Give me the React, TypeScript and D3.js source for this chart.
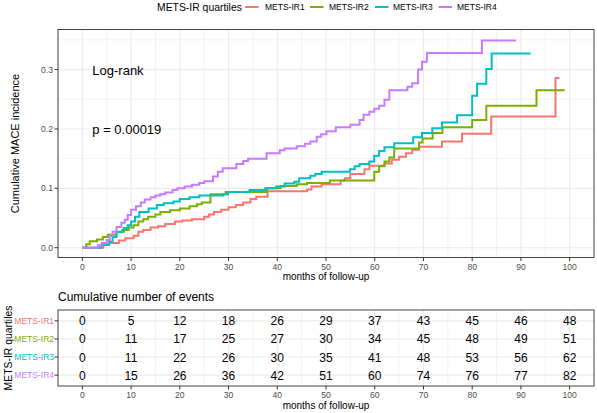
import React from "react";
import * as d3 from "d3";

// ---------- data ----------
const groups = ["METS-IR1", "METS-IR2", "METS-IR3", "METS-IR4"];
const groupColors = ["#F8766D", "#7CAE00", "#00BFC4", "#C77CFF"];

// step points: [month, cumulative incidence] (value holds from this month on)
const ir1Steps: [number, number][] = [
  [0, 0], [4.3, 0.005], [5.5, 0.008], [7.5, 0.012], [8.8, 0.016], [10.5, 0.02], [11.5, 0.027],
  [12.5, 0.03], [14, 0.034], [15.5, 0.036], [17, 0.04], [19, 0.044], [20.5, 0.046], [22.5, 0.048],
  [25, 0.052], [26, 0.056], [27, 0.06], [28.5, 0.064], [30, 0.068], [31.5, 0.072], [33, 0.076],
  [34.5, 0.082], [35.7, 0.086], [38, 0.095], [46.1, 0.098], [47, 0.103], [49.1, 0.107], [53, 0.113],
  [53.9, 0.117], [55, 0.124], [57.9, 0.132], [58.9, 0.138], [62, 0.142], [63.5, 0.148], [65, 0.153],
  [66.4, 0.159], [67.7, 0.165], [69.1, 0.17], [73.8, 0.179], [77.9, 0.192], [83.9, 0.221], [97.1, 0.286],
];
const ir1End = 97.9;

const ir2Steps: [number, number][] = [
  [0, 0], [0.8, 0.006], [1.5, 0.011], [3, 0.014], [4.2, 0.018], [5.2, 0.022], [7, 0.026], [8.2, 0.03],
  [9.5, 0.034], [10.5, 0.038], [11.5, 0.044], [12.5, 0.048], [13.5, 0.052], [15, 0.056], [16, 0.06],
  [18, 0.063], [20, 0.066], [22, 0.07], [23.5, 0.073], [24.5, 0.076], [26.3, 0.09], [29.4, 0.094],
  [37.9, 0.1], [40.7, 0.104], [44, 0.107], [46.1, 0.109], [50.8, 0.113], [59.9, 0.128], [60.9, 0.137],
  [62, 0.145], [63, 0.152], [64, 0.167], [69.1, 0.177], [69.8, 0.184], [71.9, 0.193], [73.9, 0.203],
  [80, 0.215], [82.9, 0.239], [93.2, 0.265],
];
const ir2End = 99;

const ir3Steps: [number, number][] = [
  [0, 0], [3.9, 0.005], [5.5, 0.01], [6.2, 0.018], [7, 0.027], [8.5, 0.033], [9.3, 0.038], [10, 0.044],
  [10.8, 0.052], [11.7, 0.06], [13.6, 0.066], [15.3, 0.072], [16.7, 0.075], [18.7, 0.078], [20, 0.082],
  [22, 0.085], [24, 0.088], [28.9, 0.09], [29.9, 0.094], [34.3, 0.097], [37.5, 0.1], [39.8, 0.103],
  [41.5, 0.108], [43.5, 0.111], [44.5, 0.117], [46.8, 0.121], [47.8, 0.124], [49.1, 0.128], [54.9, 0.132],
  [55.9, 0.137], [56.9, 0.141], [58.9, 0.145], [59.9, 0.155], [60.9, 0.163], [62, 0.169], [64, 0.176],
  [67.9, 0.186], [69.7, 0.193], [71.8, 0.201], [73.8, 0.211], [76.9, 0.223], [80, 0.256], [81, 0.276],
  [82.9, 0.301], [84, 0.327],
];
const ir3End = 92;

const ir4Steps: [number, number][] = [
  [0, 0], [3.2, 0.004], [4, 0.008], [5, 0.013], [5.6, 0.02], [6.2, 0.027], [7, 0.035], [8, 0.042],
  [8.7, 0.047], [9.3, 0.055], [10, 0.064], [11, 0.07], [12, 0.076], [12.8, 0.081], [14, 0.085],
  [15, 0.088], [16, 0.09], [17, 0.093], [18.5, 0.097], [19.5, 0.1], [21, 0.103], [22.5, 0.106],
  [24, 0.109], [25, 0.112], [26.8, 0.12], [27.8, 0.128], [28.8, 0.134], [31.6, 0.141], [33, 0.146],
  [34, 0.15], [37.8, 0.159], [40.5, 0.164], [41.5, 0.167], [44, 0.171], [45.7, 0.175], [46.8, 0.179],
  [48.1, 0.187], [49, 0.191], [50.1, 0.196], [52, 0.203], [55, 0.207], [56.9, 0.215], [57.7, 0.224],
  [58.9, 0.229], [59.9, 0.234], [60.9, 0.239], [62, 0.249], [63, 0.265], [66.7, 0.271], [67.7, 0.277],
  [68.9, 0.3], [69.7, 0.313], [70.7, 0.328], [82, 0.349],
];
const ir4End = 89;

const riskTimes = [0, 10, 20, 30, 40, 50, 60, 70, 80, 90, 100];
const ir1Events = [0, 5, 12, 18, 26, 29, 37, 43, 45, 46, 48];
const ir2Events = [0, 11, 17, 25, 27, 30, 34, 45, 48, 49, 51];
const ir3Events = [0, 11, 22, 26, 30, 35, 41, 48, 53, 56, 62];
const ir4Events = [0, 15, 26, 36, 42, 51, 60, 74, 76, 77, 82];

const xTicks = [0, 10, 20, 30, 40, 50, 60, 70, 80, 90, 100];
const xMinorTicks = [-5, 5, 15, 25, 35, 45, 55, 65, 75, 85, 95, 105];
const yTicks = [0, 0.1, 0.2, 0.3];
const yMinorTicks = [0.05, 0.15, 0.25, 0.35];

const curveSteps = [ir1Steps, ir2Steps, ir3Steps, ir4Steps];
const curveEnds = [ir1End, ir2End, ir3End, ir4End];
const eventRows = [ir1Events, ir2Events, ir3Events, ir4Events];

// ---------- layout ----------
const W = 597;
const H = 413;
const panelL = 58;
const panelR = 594;
const mainTop = 29.5;
const mainBot = 257.5;
const tabTop = 310;
const tabBot = 386;
const FONT = "Liberation Sans, Arial, Helvetica, sans-serif";
const tickCol = "#4D4D4D";
const gridCol = "#EBEBEB";
const borderCol = "#444444";

export default function App() {
  const x = d3.scaleLinear().domain([-5, 105]).range([panelL, panelR]);
  const y = d3.scaleLinear().domain([-0.0165, 0.3675]).range([mainBot, mainTop]);
  const rowY = d3.scalePoint<string>().domain(groups).range([tabTop, tabBot]).padding(0.6);

  const line = d3
    .line<[number, number]>()
    .x((d) => x(d[0]))
    .y((d) => y(d[1]))
    .curve(d3.curveStepAfter);

  const legendItems = [
    { key: 245, label: 265 },
    { key: 310, label: 329 },
    { key: 375, label: 393 },
    { key: 438.5, label: 457 },
  ];

  return (
    <svg
      width={W}
      height={H}
      viewBox={`0 0 ${W} ${H}`}
      style={{ position: "absolute", left: 0, top: 0, background: "#fff" }}
      fontFamily={FONT}
    >
      <rect x={0} y={0} width={W} height={H} fill="#fff" />

      {/* legend */}
      <text x={157} y={7} fontSize={10.4} dominantBaseline="central" fill="#000">
        METS-IR quartiles
      </text>
      {groups.map((g, i) => (
        <g key={g}>
          <line
            x1={legendItems[i].key}
            x2={legendItems[i].key + 13.5}
            y1={7}
            y2={7}
            stroke={groupColors[i]}
            strokeWidth={2}
          />
          <text x={legendItems[i].label} y={7.3} fontSize={8.5} dominantBaseline="central" fill="#000">
            {g}
          </text>
        </g>
      ))}

      {/* main panel grid */}
      <g>
        {xMinorTicks.map((t) => (
          <line key={"xm" + t} x1={x(t)} x2={x(t)} y1={mainTop} y2={mainBot} stroke={gridCol} strokeWidth={0.6} />
        ))}
        {yMinorTicks.map((t) => (
          <line key={"ym" + t} x1={panelL} x2={panelR} y1={y(t)} y2={y(t)} stroke={gridCol} strokeWidth={0.6} />
        ))}
        {xTicks.map((t) => (
          <line key={"x" + t} x1={x(t)} x2={x(t)} y1={mainTop} y2={mainBot} stroke={gridCol} strokeWidth={1.1} />
        ))}
        {yTicks.map((t) => (
          <line key={"y" + t} x1={panelL} x2={panelR} y1={y(t)} y2={y(t)} stroke={gridCol} strokeWidth={1.1} />
        ))}
      </g>

      {/* curves */}
      {curveSteps.map((steps, i) => {
        const pts: [number, number][] = [...steps, [curveEnds[i], steps[steps.length - 1][1]]];
        return (
          <path
            key={groups[i]}
            d={line(pts) || ""}
            fill="none"
            stroke={groupColors[i]}
            strokeWidth={2}
          />
        );
      })}

      {/* annotations */}
      <text x={92.3} y={70} fontSize={13} dominantBaseline="central" fill="#000">
        Log-rank
      </text>
      <text x={92.3} y={129.3} fontSize={13} dominantBaseline="central" fill="#000">
        p = 0.00019
      </text>

      <rect
        x={panelL}
        y={mainTop}
        width={panelR - panelL}
        height={mainBot - mainTop}
        fill="none"
        stroke={borderCol}
        strokeWidth={1}
      />

      {/* main axes */}
      {yTicks.map((t) => (
        <g key={"yt" + t}>
          <line x1={panelL - 3.5} x2={panelL} y1={y(t)} y2={y(t)} stroke="#333" strokeWidth={1} />
          <text
            x={panelL - 5}
            y={y(t)}
            fontSize={8.6}
            textAnchor="end"
            dominantBaseline="central"
            fill={tickCol}
          >
            {d3.format(".1f")(t)}
          </text>
        </g>
      ))}
      {xTicks.map((t) => (
        <g key={"xt" + t}>
          <line x1={x(t)} x2={x(t)} y1={mainBot} y2={mainBot + 3.5} stroke="#333" strokeWidth={1} />
          <text x={x(t)} y={266.5} fontSize={8.6} textAnchor="middle" dominantBaseline="central" fill={tickCol}>
            {t}
          </text>
        </g>
      ))}
      <text x={(panelL + panelR) / 2} y={276} fontSize={10} textAnchor="middle" dominantBaseline="central" fill="#000">
        months of follow-up
      </text>
      <text
        transform={`translate(15, ${(mainTop + mainBot) / 2}) rotate(-90)`}
        fontSize={11}
        textAnchor="middle"
        dominantBaseline="central"
        fill="#000"
      >
        Cumulative MACE incidence
      </text>

      {/* risk table */}
      <text x={panelL} y={297} fontSize={12} dominantBaseline="central" fill="#000">
        Cumulative number of events
      </text>
      <g>
        {xMinorTicks.map((t) => (
          <line key={"txm" + t} x1={x(t)} x2={x(t)} y1={tabTop} y2={tabBot} stroke={gridCol} strokeWidth={0.6} />
        ))}
        {xTicks.map((t) => (
          <line key={"tx" + t} x1={x(t)} x2={x(t)} y1={tabTop} y2={tabBot} stroke={gridCol} strokeWidth={1.1} />
        ))}
        {groups.map((g) => (
          <line key={"ty" + g} x1={panelL} x2={panelR} y1={rowY(g)} y2={rowY(g)} stroke={gridCol} strokeWidth={1.1} />
        ))}
      </g>
      {groups.map((g, i) =>
        eventRows[i].map((v, j) => (
          <text
            key={g + j}
            x={x(riskTimes[j])}
            y={(rowY(g) as number) + 0.5}
            fontSize={12}
            textAnchor="middle"
            dominantBaseline="central"
            fill="#000"
          >
            {v}
          </text>
        ))
      )}
      <rect
        x={panelL}
        y={tabTop}
        width={panelR - panelL}
        height={tabBot - tabTop}
        fill="none"
        stroke={borderCol}
        strokeWidth={1}
      />
      {groups.map((g, i) => (
        <g key={"rl" + g}>
          <line x1={panelL - 3.5} x2={panelL} y1={rowY(g)} y2={rowY(g)} stroke="#333" strokeWidth={1} />
          <text
            x={panelL - 4}
            y={rowY(g)}
            fontSize={8.5}
            textAnchor="end"
            dominantBaseline="central"
            fill={groupColors[i]}
          >
            {g}
          </text>
        </g>
      ))}
      {xTicks.map((t) => (
        <g key={"txt" + t}>
          <line x1={x(t)} x2={x(t)} y1={tabBot} y2={tabBot + 3.5} stroke="#333" strokeWidth={1} />
          <text x={x(t)} y={395} fontSize={8.6} textAnchor="middle" dominantBaseline="central" fill={tickCol}>
            {t}
          </text>
        </g>
      ))}
      <text x={(panelL + panelR) / 2} y={405.5} fontSize={10} textAnchor="middle" dominantBaseline="central" fill="#000">
        months of follow-up
      </text>
      <text
        transform={`translate(8, ${(tabTop + tabBot) / 2}) rotate(-90)`}
        fontSize={10.4}
        textAnchor="middle"
        dominantBaseline="central"
        fill="#000"
      >
        METS-IR quartiles
      </text>
    </svg>
  );
}
